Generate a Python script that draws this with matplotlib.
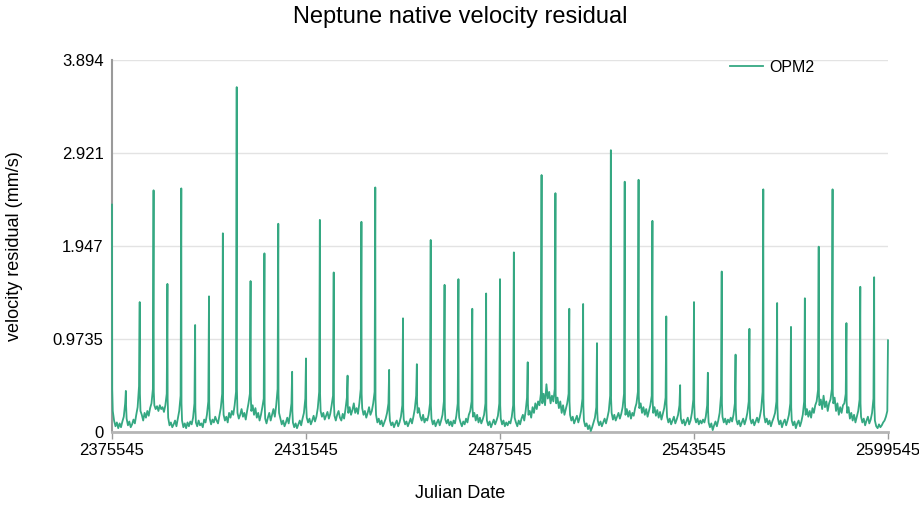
import numpy as np
import matplotlib.pyplot as plt

plt.rcParams['font.family'] = ['Liberation Sans', 'DejaVu Sans']

# ---------------- Data ---------------- #
jd_start = 2375545
jd_end = 2599545
cycle_days = 4000

# main spikes, one every 4000 days
spike_vals = [2.38, 0.43, 1.36, 2.53, 1.55, 2.55, 1.12, 1.42, 2.08, 3.61,
              1.58, 1.87, 2.18, 0.63, 0.77, 2.22, 1.67, 0.59, 2.20, 2.56,
              0.65, 1.19, 0.71, 2.01, 1.54, 1.60, 1.29, 1.45, 1.60, 1.88,
              0.73, 2.69, 2.50, 1.29, 1.34, 0.93, 2.95, 2.62, 2.64, 2.21,
              1.21, 0.49, 1.36, 0.62, 1.68, 0.81, 1.08, 2.54, 1.35, 1.10,
              1.40, 1.94, 2.54, 1.14, 1.52, 1.62, 0.96]

# days after each spike where the baseline was sampled
base_offsets = [60, 220, 600, 1000, 1400, 1800, 2200, 2600, 3000, 3400, 3800]

# baseline between spikes, one row per cycle
base_vals = [
    [0.45, 0.22, 0.12, 0.06, 0.10, 0.04, 0.09, 0.05, 0.11, 0.16, 0.30],
    [0.28, 0.14, 0.07, 0.11, 0.05, 0.08, 0.13, 0.09, 0.18, 0.26, 0.48],
    [0.40, 0.22, 0.18, 0.12, 0.20, 0.15, 0.22, 0.17, 0.25, 0.30, 0.45],
    [0.42, 0.28, 0.24, 0.27, 0.22, 0.28, 0.24, 0.26, 0.21, 0.28, 0.40],
    [0.35, 0.15, 0.07, 0.10, 0.05, 0.08, 0.12, 0.06, 0.14, 0.22, 0.38],
    [0.30, 0.12, 0.05, 0.09, 0.04, 0.10, 0.06, 0.11, 0.08, 0.15, 0.30],
    [0.25, 0.10, 0.06, 0.12, 0.07, 0.09, 0.05, 0.13, 0.10, 0.18, 0.32],
    [0.30, 0.14, 0.08, 0.13, 0.10, 0.16, 0.12, 0.09, 0.17, 0.25, 0.40],
    [0.35, 0.18, 0.12, 0.16, 0.10, 0.20, 0.15, 0.22, 0.18, 0.28, 0.42],
    [0.45, 0.20, 0.14, 0.18, 0.24, 0.16, 0.20, 0.13, 0.22, 0.30, 0.40],
    [0.38, 0.22, 0.28, 0.18, 0.25, 0.15, 0.20, 0.12, 0.18, 0.26, 0.35],
    [0.30, 0.14, 0.09, 0.15, 0.20, 0.12, 0.18, 0.24, 0.16, 0.28, 0.45],
    [0.40, 0.20, 0.14, 0.08, 0.12, 0.06, 0.10, 0.15, 0.09, 0.18, 0.30],
    [0.22, 0.10, 0.05, 0.09, 0.04, 0.08, 0.12, 0.07, 0.14, 0.20, 0.35],
    [0.28, 0.15, 0.10, 0.14, 0.08, 0.12, 0.17, 0.11, 0.16, 0.25, 0.42],
    [0.40, 0.22, 0.16, 0.20, 0.13, 0.17, 0.21, 0.14, 0.19, 0.28, 0.38],
    [0.30, 0.17, 0.12, 0.18, 0.22, 0.15, 0.12, 0.19, 0.14, 0.24, 0.36],
    [0.28, 0.20, 0.26, 0.18, 0.23, 0.30, 0.20, 0.25, 0.19, 0.30, 0.45],
    [0.40, 0.25, 0.18, 0.22, 0.15, 0.20, 0.26, 0.18, 0.22, 0.30, 0.42],
    [0.35, 0.18, 0.10, 0.14, 0.08, 0.12, 0.06, 0.10, 0.14, 0.20, 0.30],
    [0.22, 0.12, 0.07, 0.10, 0.05, 0.09, 0.12, 0.06, 0.10, 0.16, 0.28],
    [0.25, 0.13, 0.08, 0.11, 0.06, 0.10, 0.14, 0.09, 0.16, 0.24, 0.38],
    [0.32, 0.20, 0.25, 0.16, 0.12, 0.18, 0.10, 0.14, 0.12, 0.18, 0.30],
    [0.28, 0.14, 0.08, 0.12, 0.06, 0.10, 0.13, 0.07, 0.12, 0.18, 0.32],
    [0.26, 0.13, 0.09, 0.13, 0.07, 0.11, 0.06, 0.12, 0.09, 0.17, 0.30],
    [0.28, 0.15, 0.10, 0.06, 0.11, 0.08, 0.14, 0.10, 0.18, 0.22, 0.32],
    [0.26, 0.16, 0.20, 0.12, 0.18, 0.10, 0.15, 0.09, 0.13, 0.18, 0.30],
    [0.25, 0.12, 0.07, 0.11, 0.05, 0.09, 0.13, 0.08, 0.12, 0.17, 0.30],
    [0.28, 0.14, 0.08, 0.12, 0.06, 0.10, 0.07, 0.11, 0.09, 0.16, 0.28],
    [0.30, 0.15, 0.10, 0.06, 0.12, 0.08, 0.14, 0.18, 0.12, 0.22, 0.36],
    [0.30, 0.18, 0.22, 0.15, 0.26, 0.20, 0.30, 0.24, 0.32, 0.28, 0.40],
    [0.45, 0.30, 0.40, 0.28, 0.50, 0.35, 0.42, 0.30, 0.38, 0.32, 0.45],
    [0.40, 0.30, 0.36, 0.25, 0.32, 0.20, 0.28, 0.18, 0.24, 0.30, 0.40],
    [0.32, 0.18, 0.12, 0.16, 0.09, 0.13, 0.17, 0.10, 0.15, 0.22, 0.35],
    [0.28, 0.12, 0.06, 0.09, 0.03, 0.07, 0.01, 0.05, 0.10, 0.15, 0.26],
    [0.22, 0.12, 0.07, 0.11, 0.06, 0.10, 0.14, 0.09, 0.15, 0.22, 0.38],
    [0.35, 0.20, 0.13, 0.18, 0.12, 0.16, 0.20, 0.14, 0.19, 0.26, 0.40],
    [0.32, 0.18, 0.24, 0.16, 0.22, 0.14, 0.20, 0.17, 0.25, 0.30, 0.42],
    [0.38, 0.25, 0.30, 0.20, 0.26, 0.18, 0.24, 0.16, 0.22, 0.28, 0.38],
    [0.34, 0.20, 0.26, 0.17, 0.23, 0.15, 0.21, 0.13, 0.19, 0.25, 0.36],
    [0.30, 0.16, 0.10, 0.14, 0.08, 0.12, 0.16, 0.09, 0.13, 0.18, 0.28],
    [0.25, 0.14, 0.09, 0.13, 0.07, 0.11, 0.15, 0.08, 0.12, 0.20, 0.34],
    [0.30, 0.15, 0.10, 0.14, 0.08, 0.12, 0.09, 0.13, 0.10, 0.16, 0.28],
    [0.22, 0.10, 0.05, 0.09, 0.02, 0.07, 0.11, 0.06, 0.12, 0.20, 0.38],
    [0.30, 0.16, 0.10, 0.14, 0.08, 0.13, 0.10, 0.15, 0.11, 0.18, 0.30],
    [0.25, 0.13, 0.08, 0.12, 0.06, 0.10, 0.14, 0.08, 0.13, 0.20, 0.32],
    [0.28, 0.14, 0.09, 0.13, 0.07, 0.11, 0.15, 0.10, 0.16, 0.24, 0.42],
    [0.35, 0.18, 0.10, 0.14, 0.08, 0.12, 0.06, 0.11, 0.15, 0.20, 0.32],
    [0.28, 0.14, 0.08, 0.12, 0.05, 0.10, 0.13, 0.07, 0.12, 0.18, 0.30],
    [0.26, 0.12, 0.07, 0.11, 0.04, 0.09, 0.12, 0.06, 0.11, 0.18, 0.32],
    [0.30, 0.18, 0.24, 0.16, 0.22, 0.15, 0.25, 0.20, 0.28, 0.32, 0.44],
    [0.40, 0.28, 0.34, 0.24, 0.38, 0.26, 0.32, 0.22, 0.30, 0.34, 0.45],
    [0.42, 0.30, 0.36, 0.22, 0.30, 0.18, 0.26, 0.20, 0.28, 0.30, 0.40],
    [0.32, 0.20, 0.26, 0.14, 0.20, 0.12, 0.18, 0.10, 0.16, 0.22, 0.34],
    [0.30, 0.16, 0.10, 0.14, 0.07, 0.12, 0.16, 0.09, 0.13, 0.20, 0.35],
    [0.28, 0.12, 0.06, 0.04, 0.08, 0.05, 0.07, 0.10, 0.12, 0.16, 0.22],
]

y_ticks = [0, 0.9735, 1.947, 2.921, 3.894]
y_tick_labels = ['0', '0.9735', '1.947', '2.921', '3.894']
x_ticks = [2375545, 2431545, 2487545, 2543545, 2599545]

# ---------------- Build the series ---------------- #
jd = []
res = []
for k, spike in enumerate(spike_vals):
    t0 = jd_start + k * cycle_days
    jd.append(t0)
    res.append(spike)
    if k < len(base_vals):
        for off, v in zip(base_offsets, base_vals[k]):
            jd.append(t0 + off)
            res.append(v)

# ---------------- Plot ---------------- #
line_color = '#35a882'
grid_color = '#e3e3e3'
axis_color = '#9a9a9a'

fig = plt.figure(figsize=(9.2, 5.2), dpi=100)
ax = fig.add_axes([112 / 920, 88 / 520, 776 / 920, 372 / 520])

ax.plot(jd, res, color=line_color, lw=1.3, label='OPM2',
        clip_on=False, zorder=4)

ax.set_xlim(jd_start, jd_end)
ax.set_ylim(0, 3.894)
ax.set_yticks(y_ticks)
ax.set_yticklabels(y_tick_labels)
ax.set_xticks(x_ticks)
ax.set_xticklabels([str(t) for t in x_ticks])

ax.grid(axis='y', color=grid_color, lw=1.0)
ax.set_axisbelow(True)
for side in ['top', 'right']:
    ax.spines[side].set_visible(False)
ax.spines['left'].set_color(axis_color)
ax.spines['left'].set_linewidth(1.5)
ax.spines['bottom'].set_color('#b5b5b5')
ax.spines['bottom'].set_linewidth(2.0)

ax.tick_params(axis='y', length=0, pad=6, labelsize=12, labelcolor='black')
ax.tick_params(axis='x', length=5, width=1, color=axis_color, pad=3,
               labelsize=12, labelcolor='black')

fig.text(460 / 920, 1 - 17 / 520, 'Neptune native velocity residual',
         ha='center', va='center', fontsize=17)
fig.text(460 / 920, 1 - 494 / 520, 'Julian Date',
         ha='center', va='center', fontsize=13)
fig.text(15 / 920, 1 - 246 / 520, 'velocity residual (mm/s)',
         ha='center', va='center', fontsize=13, rotation=90)

ax.legend(loc='upper left', bbox_to_anchor=(0.796, 1.0), frameon=False,
          fontsize=11.5, borderpad=0, borderaxespad=0,
          handlelength=2.1, handletextpad=0.4)

fig.savefig('out.png', dpi=100)
